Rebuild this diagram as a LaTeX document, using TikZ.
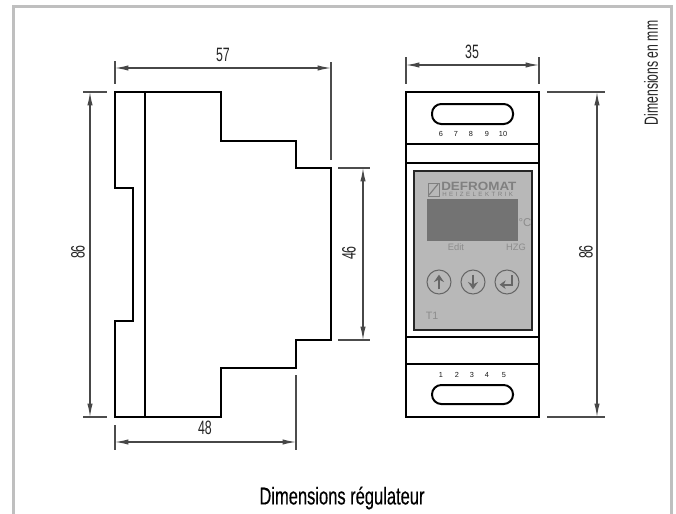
\documentclass[tikz,border=0pt]{standalone}
\usepackage{fontspec}
\setmainfont{Liberation Sans}
\newfontfamily\lab[FakeStretch=0.64]{Liberation Sans}
\newfontfamily\titlefam[FakeStretch=0.68,FakeBold=0.3]{Liberation Sans}
\newfontfamily\brandfam[FakeStretch=1.12]{Liberation Sans}
\newfontfamily\spacedfam[LetterSpace=40]{Liberation Sans}
\usetikzlibrary{arrows.meta}
\tikzset{
 x=0.75pt,y=-0.75pt,
 obj/.style={draw=black,line width=2.2pt,line join=miter},
 thin obj/.style={draw=black,line width=1.5pt},
 ext/.style={draw=black!70,line width=0.8pt},
 dim/.style={draw=black!72,line width=0.9pt,{Latex[length=10pt,width=4pt]}-{Latex[length=10pt,width=4pt]}},
 dimlabel/.style={font=\lab\fontsize{14.5}{16}\selectfont,text=black!85,inner sep=0pt},
 tiny/.style={font=\fontsize{5.5}{6}\selectfont,text=black!90,inner sep=0pt},
 panel/.style={font=\fontsize{7}{8}\selectfont,text=black!45,inner sep=0pt},
 keycap/.style={circle,draw=black!60,line width=0.8pt,minimum size=18pt,inner sep=0pt},
}
\begin{document}
\begin{tikzpicture}
\useasboundingbox (0,0) rectangle (676,514);
\fill[white] (0,0) rectangle (676,514);
% frame
\draw[black!25,line width=2.3pt] (13.5,514) -- (13.5,6.5) -- (671.5,6.5) -- (671.5,514);
% side profile
\draw[obj] (115,92) -- (221,92) -- (221,141) -- (296,141) -- (296,168) -- (331,168) -- (331,340) -- (296,340) -- (296,368) -- (221,368) -- (221,417) -- (115,417) -- (115,321) -- (133,321) -- (133,188) -- (115,188) -- cycle;
\draw[obj] (145,92) -- (145,417);
% side extension lines
\coordinate (a1) at (115,68); \coordinate (a2) at (331,68);
\draw[ext] (115,61) -- (115,84);
\draw[ext] (331,62) -- (331,160);
\draw[dim] (a1) -- (a2);
\node[dimlabel] (l57) at (223,55) {57};
\coordinate (b1) at (90,92); \coordinate (b2) at (90,417);
\draw[ext] (83,92) -- (107,92);
\draw[ext] (83,417) -- (107,417);
\draw[dim] (b1) -- (b2);
\node[dimlabel,rotate=90] (l86a) at (78,252) {86};
\coordinate (c1) at (363,168); \coordinate (c2) at (363,340);
\draw[ext] (338,168) -- (370,168);
\draw[ext] (338,340) -- (370,340);
\draw[dim] (c1) -- (c2);
\node[dimlabel,rotate=90] (l46) at (349,253) {46};
\coordinate (d1) at (115,442); \coordinate (d2) at (296,442);
\draw[ext] (115,425) -- (115,450);
\draw[ext] (296,375) -- (296,450);
\draw[dim] (d1) -- (d2);
\node[dimlabel] (l48) at (205,428) {48};
% front view
\draw[obj] (406,92) rectangle (539,417);
\draw[thin obj] (406,144) -- (539,144);
\draw[thin obj] (406,163) -- (539,163);
\draw[thin obj] (406,337) -- (539,337);
\draw[obj] (406,364) -- (539,364);
\draw[thin obj,rounded corners=7pt] (432,104) rectangle (513,124);
\draw[thin obj,rounded corners=7pt] (432,385) rectangle (513,404);
\node[tiny] (n6) at (441,134) {6};
\node[tiny] (n7) at (456,134) {7};
\node[tiny] (n8) at (471,134) {8};
\node[tiny] (n9) at (487,134) {9};
\node[tiny] (n10) at (503,134) {10};
\node[tiny] (n1) at (441,375) {1};
\node[tiny] (n2) at (457,375) {2};
\node[tiny] (n3) at (472,375) {3};
\node[tiny] (n4) at (487,375) {4};
\node[tiny] (n5) at (504,375) {5};
% panel
\draw[fill=black!28,draw=black!85,line width=1.1pt] (414,171) rectangle (532,330);
\fill[black!55] (427,199) rectangle (518,241);
\draw[black!50,line width=0.7pt] (428,183) rectangle (439,196);
\draw[black!50,line width=0.9pt] (429,195) -- (438,184);
\node[anchor=west,inner sep=0pt,font=\brandfam\bfseries\fontsize{9}{10}\selectfont,text=black!50] (brand) at (441,186) {DEFROMAT};
\node[anchor=west,inner sep=0pt,font=\spacedfam\fontsize{4.6}{5}\selectfont,text=black!50] (sub) at (442,194.5) {HEIZELEKTRIK};
\node[panel,font=\fontsize{8.5}{9}\selectfont] (deg) at (525,223) {°C};
\node[panel] (edit) at (456,247) {Edit};
\node[panel] (hzg) at (516,247) {HZG};
\node[panel,font=\fontsize{8}{9}\selectfont] (t1) at (432,316) {T1};
\node[keycap] (k1) at (439,282) {};
\node[keycap] (k2) at (473,282) {};
\node[keycap] (k3) at (507,282) {};
\draw[black!60,line width=2pt,-{Stealth[length=5.5pt,width=7.5pt]}] ([yshift=-5.5pt]k1.center) -- ([yshift=5.5pt]k1.center);
\draw[black!60,line width=2pt,-{Stealth[length=5.5pt,width=7.5pt]}] ([yshift=5.5pt]k2.center) -- ([yshift=-5.5pt]k2.center);
\draw[black!60,line width=1.5pt,-{Stealth[length=4.5pt,width=6.5pt]}] ([xshift=4pt,yshift=5pt]k3.center) -- ([xshift=4pt,yshift=-2pt]k3.center) -- ([xshift=-5.5pt,yshift=-2pt]k3.center);
% front dims
\coordinate (e1) at (406,65); \coordinate (e2) at (539,65);
\draw[ext] (406,57) -- (406,84);
\draw[ext] (539,57) -- (539,84);
\draw[dim] (e1) -- (e2);
\node[dimlabel] (l35) at (472,52) {35};
\coordinate (f1) at (597,92); \coordinate (f2) at (597,417);
\draw[ext] (547,92) -- (605,92);
\draw[ext] (547,417) -- (605,417);
\draw[dim] (f1) -- (f2);
\node[dimlabel,rotate=90] (l86b) at (586,252) {86};
% texts
\node[font=\lab\fontsize{14.3}{15}\selectfont,text=black!85,rotate=90,inner sep=0pt] (unit) at (651,73) {Dimensions en mm};
\node[font=\titlefam\fontsize{18.2}{20}\selectfont,text=black,inner sep=0pt] (title) at (342,498) {Dimensions régulateur};
\end{tikzpicture}
\end{document}
